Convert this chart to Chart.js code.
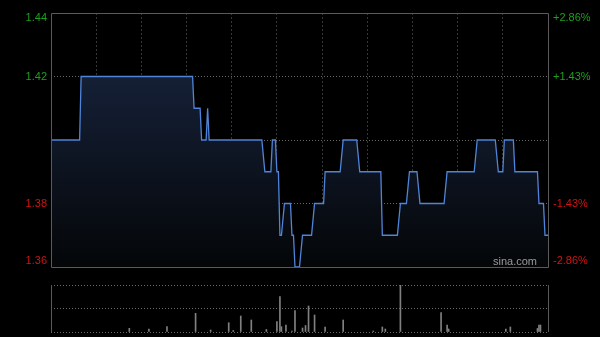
<!DOCTYPE html>
<html>
<head>
<meta charset="utf-8">
<script src="https://cdn.jsdelivr.net/npm/chart.js@4/dist/chart.umd.min.js"></script>
<style>
  html, body { margin: 0; padding: 0; background: #000; }
  #wrap { position: relative; width: 600px; height: 337px; background: #000; }
  #price-box { position: absolute; left: 0; top: 0; width: 600px; height: 280px; }
  #vol-box { position: absolute; left: 0; top: 280px; width: 600px; height: 57px; }
</style>
</head>
<body>
<div id="wrap">
  <div id="price-box"><canvas id="price-chart"></canvas></div>
  <div id="vol-box"><canvas id="vol-chart"></canvas></div>
</div>
<script>
// minutes since 9:30 (lunch break removed), 330 = 16:00
const prevClose = 1.40
const priceMinutes = [0, 19, 20, 94, 95, 99, 100, 103, 104, 105, 140, 142, 146, 147, 149, 150, 151, 152, 153, 155, 159, 160, 161, 162, 165, 167, 173, 175, 181, 182, 192, 194, 203, 205, 219, 220, 230, 232, 236, 238, 243, 245, 261, 263, 281, 283, 295, 297, 300, 301, 307, 308, 323, 324, 327, 328, 330]
const prices = [1.40, 1.40, 1.42, 1.42, 1.41, 1.41, 1.40, 1.40, 1.41, 1.40, 1.40, 1.39, 1.39, 1.40, 1.40, 1.39, 1.39, 1.37, 1.37, 1.38, 1.38, 1.37, 1.37, 1.36, 1.36, 1.37, 1.37, 1.38, 1.38, 1.39, 1.39, 1.40, 1.40, 1.39, 1.39, 1.37, 1.37, 1.38, 1.38, 1.39, 1.39, 1.38, 1.38, 1.39, 1.39, 1.40, 1.40, 1.39, 1.39, 1.40, 1.40, 1.39, 1.39, 1.38, 1.38, 1.37, 1.37]

const volMinutes = [52, 65, 77, 96, 106, 118, 121, 126, 133, 143, 150, 152, 153, 156, 160, 162, 167, 169, 171, 175, 182, 194, 214, 220, 222, 232, 259, 263, 264, 302, 305, 323, 324, 325]
const volumes = [3.7, 3, 5.3, 18.7, 2, 9.3, 1.5, 16, 12, 2.5, 10.3, 35.3, 5.3, 7, 1, 21.3, 4, 6.5, 26, 17, 5, 12, 1, 5, 3, 47, 19.3, 7, 3, 3, 5, 3.5, 7, 7]

const priceTicks = [1.36, 1.38, 1.40, 1.42, 1.44]
const priceMin = 1.36
const priceMax = 1.44

const GREEN = '#1f9f1f'
const RED = '#d01414'
const FONT = { family: '"Liberation Sans", Arial, sans-serif', size: 11 }

const frame = {
  id: 'frame',
  afterDraw(chart, args, opts) {
    const { ctx, chartArea: a } = chart
    ctx.save()
    ctx.strokeStyle = '#5a5a5a'
    ctx.lineWidth = 1
    ctx.setLineDash([])
    ctx.beginPath()
    if (opts.full) {
      ctx.rect(a.left + 0.5, a.top + 0.5, a.right - a.left, a.bottom - a.top)
    } else {
      ctx.moveTo(a.left + 0.5, a.top)
      ctx.lineTo(a.left + 0.5, a.bottom)
      ctx.moveTo(a.right + 0.5, a.top)
      ctx.lineTo(a.right + 0.5, a.bottom)
    }
    ctx.stroke()
    if (opts.mark) {
      ctx.fillStyle = '#9a9a9a'
      ctx.font = '11px "Liberation Sans", Arial, sans-serif'
      ctx.textAlign = 'right'
      ctx.textBaseline = 'bottom'
      ctx.fillText(opts.mark, a.right - 11, a.bottom)
    }
    ctx.restore()
  }
}

// edge labels sit a little inside the plot, like the original
const labelTicks = s => {
  s.ticks = priceTicks.map(v => {
    let pos = v
    if (v === priceMax) pos = v - 0.0017
    if (v === priceMin) pos = v + 0.002
    return { value: pos }
  })
}
const nearestTick = v => priceTicks.reduce((a, b) => Math.abs(b - v) < Math.abs(a - v) ? b : a)

const pctLabel = raw => {
  const v = nearestTick(raw)
  const p = (v - prevClose) / prevClose * 100
  if (Math.abs(p) < 0.001) return ''
  return (p > 0 ? '+' : '') + p.toFixed(2) + '%'
}
const tickColor = c => nearestTick(c.tick.value) > prevClose + 1e-6 ? GREEN : RED

const priceCtx = document.getElementById('price-chart')
new Chart(priceCtx, {
  type: 'line',
  data: {
    datasets: [{
      data: priceMinutes.map((m, i) => ({ x: m, y: prices[i] })),
      borderColor: '#4f84d8',
      borderWidth: 1.3,
      pointRadius: 0,
      tension: 0,
      fill: 'start',
      backgroundColor: c => {
        const a = c.chart.chartArea
        if (!a) return 'rgba(0,0,0,0)'
        const g = c.chart.ctx.createLinearGradient(0, a.top, 0, a.bottom)
        g.addColorStop(0, '#1a2740')
        g.addColorStop(0.3, '#141e33')
        g.addColorStop(1, '#040608')
        return g
      }
    }]
  },
  options: {
    responsive: true,
    maintainAspectRatio: false,
    animation: false,
    layout: { padding: { top: 13, bottom: 13, left: 0, right: 0 } },
    plugins: {
      legend: { display: false },
      tooltip: { enabled: false },
      frame: { full: true, mark: 'sina.com' }
    },
    scales: {
      x: {
        type: 'linear',
        min: 0,
        max: 330,
        afterFit: s => { s.height = 0 },
        ticks: { display: false, stepSize: 30 },
        border: { display: false, dash: [2, 2] },
        grid: {
          drawTicks: false,
          color: c => (c.tick.value === 0 || c.tick.value === 330) ? 'rgba(0,0,0,0)' : '#363636',
          lineWidth: 1
        }
      },
      y: {
        position: 'left',
        min: priceMin,
        max: priceMax,
        afterBuildTicks: labelTicks,
        afterFit: s => { s.width = 51 },
        border: { display: false, dash: [1, 2] },
        grid: {
          drawTicks: false,
          color: c => {
            const v = c.tick.value
            return (v < 1.365 || v > 1.435) ? 'rgba(0,0,0,0)' : '#686868'
          }
        },
        ticks: {
          padding: 4,
          font: FONT,
          color: tickColor,
          callback: v => {
            const t = nearestTick(v)
            return Math.abs(t - prevClose) < 1e-6 ? '' : t.toFixed(2)
          }
        }
      },
      y2: {
        position: 'right',
        min: priceMin,
        max: priceMax,
        afterBuildTicks: labelTicks,
        afterFit: s => { s.width = 52 },
        border: { display: false },
        grid: { display: false, drawTicks: false },
        ticks: {
          padding: 5,
          font: FONT,
          color: tickColor,
          callback: v => pctLabel(v)
        }
      }
    }
  },
  plugins: [frame]
})

const volCtx = document.getElementById('vol-chart')
new Chart(volCtx, {
  type: 'bar',
  data: {
    datasets: [{
      data: volMinutes.map((m, i) => ({ x: m, y: volumes[i] })),
      backgroundColor: '#808080',
      barThickness: 1,
      borderWidth: 0
    }]
  },
  options: {
    responsive: true,
    maintainAspectRatio: false,
    animation: false,
    layout: { padding: { top: 5, bottom: 5, left: 51, right: 52 } },
    plugins: {
      legend: { display: false },
      tooltip: { enabled: false },
      frame: { full: false }
    },
    scales: {
      x: {
        type: 'linear',
        min: 0,
        max: 330,
        offset: false,
        afterFit: s => { s.height = 0 },
        ticks: { display: false },
        border: { display: false },
        grid: { display: false }
      },
      y: {
        min: 0,
        max: 47,
        afterBuildTicks: s => { s.ticks = [0, 23.5, 47].map(v => ({ value: v })) },
        afterFit: s => { s.width = 0 },
        ticks: { display: false },
        border: { display: false, dash: [1, 2] },
        grid: { drawTicks: false, color: '#6a6a6a' }
      }
    }
  },
  plugins: [frame]
})
</script>
</body>
</html>
